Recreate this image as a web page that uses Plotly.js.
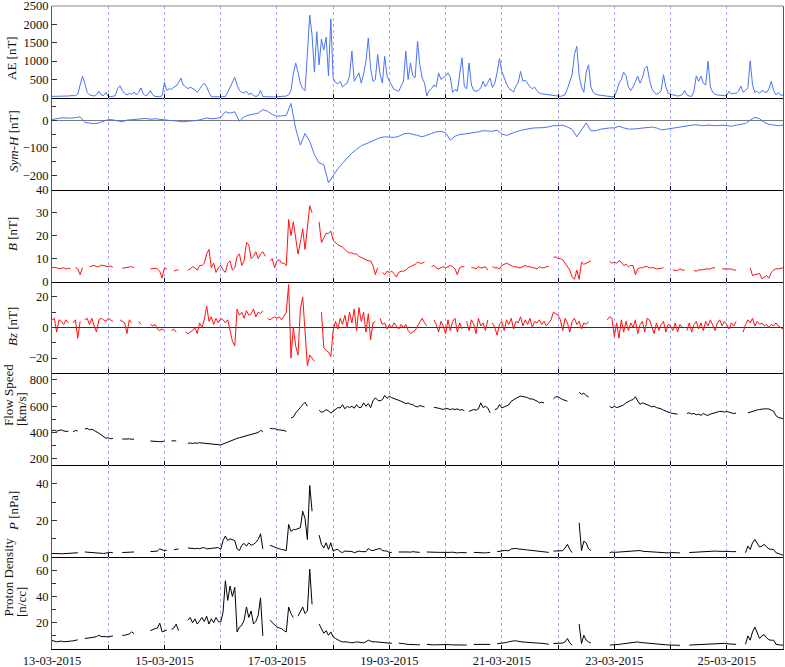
<!DOCTYPE html>
<html>
<head>
<meta charset="utf-8">
<script src="https://cdn.plot.ly/plotly-3.0.1.min.js"></script>
<style>
html,body{margin:0;padding:0;background:#fff;}
#chart{width:785px;height:667px;}
</style>
</head>
<body>
<div id="chart"></div>
<script>
// ---- time axis ----
const startDate = '2015-03-13';
const endDate = '2015-03-26';
const dayTicks = ['2015-03-13','2015-03-14','2015-03-15','2015-03-16','2015-03-17','2015-03-18','2015-03-19','2015-03-20','2015-03-21','2015-03-22','2015-03-23','2015-03-24','2015-03-25','2015-03-26'];
const dayTickText = ['13-03-2015','','15-03-2015','','17-03-2015','','19-03-2015','','21-03-2015','','23-03-2015','','25-03-2015',''];

// ---- AE [nT], hourly from 13-03 00:00 ----
const aeValues = [
40,40,35,40,45,40,40,50,60,50,60,100,350,590,400,150,80,60,50,90,180,80,60,150,
40,30,40,60,250,330,200,120,80,120,100,160,80,150,270,100,60,90,200,80,40,30,30,60,
420,200,250,230,290,320,410,540,350,300,250,290,260,220,150,250,330,400,300,150,30,30,25,30,
30,30,40,150,300,420,560,350,200,150,130,180,90,130,60,40,60,200,40,30,25,25,20,25,
30,30,40,30,50,80,200,650,950,700,400,250,200,1200,2250,1700,700,1800,900,1600,1300,1650,600,2150,
540,420,380,450,300,360,400,600,1270,450,550,680,400,650,1000,1630,800,450,500,1180,650,400,1130,600,
450,320,230,200,180,320,450,1270,500,950,600,550,1540,900,540,400,50,200,250,350,300,680,500,550,
590,680,560,150,230,180,700,1090,300,250,950,350,200,180,200,270,450,300,420,540,280,400,700,1070,
720,540,380,260,200,160,320,420,720,450,480,380,300,250,290,200,130,110,100,80,90,70,60,50,
40,40,60,90,250,450,630,1180,1400,600,300,150,700,900,300,150,100,80,70,60,50,40,40,30,
40,180,400,500,700,600,300,200,300,450,590,400,540,800,860,500,250,150,100,120,200,630,300,120,
90,80,70,50,60,90,200,80,50,40,180,600,450,590,400,350,1000,300,150,100,80,70,70,60,
70,180,100,130,120,180,320,150,200,270,1010,350,150,180,120,200,170,140,250,450,200,80,140,70,
80];

// ---- Sym-H [nT], every 2 hours ----
const symhValues = [
2,5,8,8,7,9,12,-8,-10,-13,-10,-4,
2,1,-3,-6,0,2,4,5,6,3,5,3,
0,-1,-2,-5,-6,-4,-3,-1,3,8,5,6,
10,30,25,30,-4,12,18,22,25,38,32,20,
14,15,17,60,-30,-90,-48,-76,-124,-154,-160,-225,
-200,-175,-155,-135,-118,-105,-92,-85,-78,-70,-63,-60,
-60,-62,-58,-50,-47,-50,-55,-60,-55,-48,-42,-40,
-45,-72,-58,-52,-50,-48,-44,-42,-38,-40,-40,-36,
-50,-55,-48,-42,-37,-33,-30,-28,-28,-27,-24,-20,
-20,-18,-25,-33,-60,-35,-10,-38,-38,-33,-30,-28,
-28,-22,-28,-32,-32,-30,-28,-26,-25,-28,-35,-33,
-30,-28,-25,-22,-20,-17,-18,-20,-18,-20,-20,-18,
-20,-22,-18,-15,-12,0,10,5,-8,-15,-18,-20,
-18];

// ---- |B| [nT], hourly ----
const bValues = [
6,6.2,6,5.6,5.8,6,5.5,5.8,5.5,null,6.2,5.5,3,6,null,null,6.5,6.8,7,6.5,6.5,7.2,7,6.6,
6.5,6.8,6.2,null,null,null,5.8,6,6,6.3,6.5,6,null,null,5,null,null,null,5.5,5.8,5.8,5.5,4.5,1.5,
6,5.5,null,null,4.5,5,5,null,null,null,5,5.5,6.5,6,5,7,7,8,12,14,6,8,4,6,
7,5,4,8,9,5,6,11,12,7,9,17,16,10,11,13,10,12,13,11,null,9,10,6,
9,9.5,8,8,7,27,20,26,18,12,17,23,14,25,33,30,null,null,26,17,19,21,21,22,
18,17,16,15.5,15,14,13,12.5,12.5,12,12,11,10.5,10,9.5,9,9,7,3,6,null,4,3,4.5,
4,4.5,3.5,2,4,4.5,4.5,5,6,6.5,7,7.5,8.5,8,8,8.5,null,null,6.5,7,6,5.5,6,6.5,
6,6.5,7,6.5,5.5,3,6,6.5,6.5,null,null,6,6,5.5,6.5,6,6,6.5,5,null,6.5,6,6,5.5,
7,7.5,8,7.5,7,6.5,6.5,6,6,6.5,7,6.5,6.5,6,6,5.5,6.5,6,6,6.5,6.5,null,10.5,10.8,
10,10,9.5,8,7,5,2,1,5,1,8.5,7.5,8,8.5,9,null,null,null,null,null,null,null,8.8,8,
8.5,8,9,8.5,7,7.5,6.5,7,7,3,5.5,6,6,6.5,6.5,6,6,6,5.5,5.5,5.8,6,null,null,
null,5,5,4.8,5.5,5,5,null,null,null,4.8,4.5,5,5,5.2,5.5,5.5,5.5,6,6,null,null,5.5,5.5,
5.5,5.5,5.5,5,5,null,null,null,null,null,6,2.6,3,3.4,3.5,1.2,2,2.6,1.5,4,5,5.6,5.5,5.6,
6];

// ---- Bz [nT], hourly ----
const bzValues = [
5,6,-3,5,4,2,5,3,null,3,5,-7,4,null,5,6,2,6,1,-3,5,6,5,4,
6,5,4,null,null,5,4,3,-4,5,3,null,null,4,2,null,null,null,2,1,2,-1,-2,-1,
-2,null,null,-2,-1,-3,null,null,null,-3,-4,-3,-2,0,-4,3,0,5,14,4,7,2,6,3,
6,5,3,5,-2,-9,-12,12,8,10,6,11,8,9,12,7,10,9,11,null,6,5,6,7,
6,7,5,8,10,28,-20,0,-12,-18,12,20,-5,-25,-18,-20,-22,null,null,10,-13,-15,-16,-19,
-2,4,-1,6,2,8,0,10,3,12,-2,13,4,10,-3,9,-8,3,4,null,6,2,3,-1,
2,0,3,1,-1,2,0,2,-2,-4,-3,-2,1,4,6,3,1,null,null,5,2,-3,4,1,
-4,5,-2,4,6,-3,3,-1,null,4,-2,5,2,-4,6,1,3,-2,5,null,3,0,-5,2,
4,-2,5,2,6,-1,4,3,7,1,5,2,6,0,4,3,5,2,4,1,3,5,10,9,
8,5,-2,6,3,-3,4,6,2,4,-1,3,2,4,null,null,null,null,null,null,null,5,7,6,
-6,3,-7,5,-3,4,-2,3,0,5,-4,2,4,-3,6,5,1,-4,3,-2,2,4,-3,2,
1,-2,3,-3,2,0,null,-2,3,-3,2,4,-1,3,-2,4,1,5,2,-2,3,5,1,4,
2,-1,3,1,4,null,null,-3,2,5,3,6,1,4,2,3,1,2,0,2,1,3,1,0,
-1];

// ---- Flow speed [km/s], hourly ----
const flowValues = [
412,418,410,415,420,412,408,410,null,405,415,412,null,null,425,432,420,425,415,408,395,382,370,356,
360,352,355,null,null,null,350,348,350,352,348,350,null,null,348,null,null,null,335,333,330,332,330,330,
335,null,null,336,334,336,null,null,null,null,318,320,316,320,318,322,320,318,316,314,312,308,305,303,
305,312,320,328,335,342,350,355,360,365,370,375,380,385,390,395,400,415,408,null,null,433,428,430,
420,420,418,415,408,null,510,518,549,574,590,612,630,600,null,null,null,null,569,554,560,574,565,549,
561,575,590,587,612,580,600,590,600,585,612,590,592,626,600,620,590,640,664,646,640,650,682,660,
677,665,660,651,645,638,630,620,625,615,612,600,595,605,600,595,null,null,null,592,590,585,580,575,
585,580,575,580,575,580,570,575,565,null,561,570,575,570,580,626,590,600,587,549,null,575,580,612,
587,595,600,610,638,650,664,670,677,675,670,665,656,655,650,640,626,630,626,null,null,null,655,672,
672,660,650,645,638,null,null,null,null,708,690,700,680,672,null,null,null,null,null,null,null,null,600,587,
600,590,595,600,610,626,638,645,651,672,640,615,626,620,610,605,595,600,590,587,580,570,561,555,
549,545,544,540,null,null,null,545,550,540,545,535,540,530,545,535,530,540,545,550,555,561,560,555,
560,555,550,544,548,null,null,497,null,549,555,560,569,572,575,579,580,580,579,570,561,528,515,510,
505];

// ---- Pressure P [nPa], hourly ----
const pValues = [
2,2.1,2,1.9,1.8,1.9,2,2.1,2.2,2.3,2.5,2.4,null,null,2.8,2.7,2.5,2.6,2.5,2.4,2.3,2.2,2,2.2,
2.5,2.6,2.4,null,null,null,2.5,2.6,2.8,2.7,2.6,2.8,null,null,4,null,null,null,3,3.1,3.2,3.3,4.5,4,
3.5,3.8,null,null,4,4.2,4.5,null,null,null,5,4.8,4.5,4.6,4.8,4.6,5,5.2,4.5,4.7,4.8,5,5,5.2,
4.3,9,11.5,9,10,9.5,9,4.5,3.6,6.5,7.5,6,7.8,6.5,7,8,9.6,12.7,4.5,null,null,6.5,6,5.5,
4.7,4.5,4.2,4,3.6,17.8,14,15,15,15.5,16,25,21,9.6,39,25,null,null,12,7,5,7.8,4.2,7.8,
3.3,4,4.2,3,2.5,3.3,3.2,3,3.1,2.4,2.8,3.3,3,3.1,3,4.7,3.8,3.6,4.2,4.4,4.7,3.6,3.4,3.3,
2.5,2.6,null,null,2.8,2.9,3,2.9,2.8,2.7,3,2.8,2.5,2.6,null,null,2.8,2.7,2.6,2.5,2.5,2.6,2.6,2.5,
2.5,2.4,2.6,2.7,2.4,2.3,2.5,2.6,2.3,2.4,null,null,2.6,2.5,2.5,2.4,2.4,2.3,2.5,2.6,null,null,3,3.3,
3.5,3.6,3.6,3.5,4.5,4.7,4.7,4.5,4.2,4.3,4,3.9,3.8,3.7,3.5,3.4,3.2,3.1,3,2.8,2.6,null,3.3,3.3,
3.3,3.2,3.5,5,7,4.2,2.5,null,null,18.7,3.5,8.7,7.8,4.5,3.6,null,null,null,null,null,null,null,2.4,2.8,
2.6,2.7,2.8,2.9,3,3.1,3.2,3.3,3.4,3.3,3.5,3.6,3.2,3.1,3,3,2.8,2.7,2.6,2.6,2.5,2.4,2.4,2.3,
2.5,2.4,2.4,2.3,2.3,null,null,null,2.5,2.6,2.6,2.7,2.8,2.9,3,3.1,3.2,3.2,3.3,3.3,3.2,3.2,3.4,3.5,
3.2,3.1,3,3,3,null,null,null,2.4,6,4.2,7.8,9.6,7.8,5.5,6,7,5.5,4.5,4.2,4.2,2.4,1.8,1.5,
1.1];

// ---- Proton density [n/cc], hourly ----
const nValues = [
6.5,6,5.5,5.8,6,5.5,5.5,5.8,6,6.2,6.7,7,null,null,8,8.2,8.5,8.3,9,9.5,10.4,9.5,9.2,9.4,
9.2,9.5,10,null,null,null,10.4,10.4,11,11.5,13,11.7,null,null,14,null,null,null,14,15,15.5,16,19.7,13,
14,14.5,null,15,16,19,14,null,null,null,22,24,20,23,19,22,24,21,25,19,23,20,24,21,
20.5,28,52,37,48,40,47,13,16.7,18,22,32,24,29,19,21,25.5,39,10,null,null,22,20,18,
16.7,16,15.5,14,13,32,27,24,null,25,28,32,27,29,60.8,34,null,null,19,15.5,12,14,10.5,13,
9.2,8,6.7,6,5.4,5.5,5.4,5,4.7,5,5.4,5.2,5,4.7,5.5,6.7,6,5.4,5.5,5.4,5.2,4.7,4.8,4.7,
4.5,4.3,null,null,4.5,4.4,4,3.8,3.5,3.6,3.5,3.3,3.2,3.3,null,null,3.5,3.3,3,3.1,3.2,3.3,3.5,3.4,
3.5,3.4,3.2,3.1,3,3.2,3.2,3.1,3,3.1,null,null,3.5,3.5,3.4,3.3,3.2,3.3,3.4,3.5,null,null,4,4.2,
4.5,4.3,5,5.5,6,6.2,6.2,5.8,5.5,5.3,5.2,5,5,4.9,4.8,4.6,4.5,4.3,4.2,3.8,3.5,null,4.2,4.3,
4.2,4,4.5,5.4,8,4.6,3,null,null,19,4.2,10.4,6.7,5.4,4.6,null,null,null,null,null,null,null,3,3,
3.2,3.3,3.5,3.8,4,4.1,4.2,4.3,4.5,4.8,5.4,5,4.8,4.5,4.3,4.2,4,3.9,3.8,3.7,3.5,3.3,3.2,3.1,
3,3.1,3,2.9,2.8,null,null,null,3,3.1,3.2,3.3,3.5,3.5,3.6,3.7,3.8,3.9,4,4.1,4,4.2,4.2,4.3,
4,3.8,3.6,3.6,3.5,null,null,null,3.6,10,6.7,13,16.7,11.7,8,10,11,8.5,7,6.7,6.7,3.6,3.2,3,
3];

// ---- build sample times (regular grid from the start date) ----
const START_MS = Date.UTC(2015, 2, 13);
function timeGrid(stepHours, count) {
  const out = [];
  for (let i = 0; i < count; i++) {
    const d = new Date(START_MS + i * stepHours * 3600000);
    out.push(d.toISOString().slice(0, 16).replace('T', ' '));
  }
  return out;
}
const tHourly = timeGrid(1, aeValues.length);
const t2h = timeGrid(2, symhValues.length);

const BLUE = '#4a74f2', RED = '#ff1010', BLACK = '#000000';
function tr(x, y, color, xa, ya) {
  return {x: x, y: y, type: 'scatter', mode: 'lines', line: {color: color, width: 1},
          xaxis: xa, yaxis: ya, hoverinfo: 'skip', showlegend: false, connectgaps: false};
}
const data = [
  tr(tHourly, aeValues, BLUE, 'x', 'y'),
  tr(t2h, symhValues, BLUE, 'x2', 'y2'),
  tr(tHourly, bValues, RED, 'x3', 'y3'),
  tr(tHourly, bzValues, RED, 'x4', 'y4'),
  tr(tHourly, flowValues, BLACK, 'x5', 'y5'),
  tr(tHourly, pValues, BLACK, 'x6', 'y6'),
  tr(tHourly, nValues, BLACK, 'x7', 'y7')
];

const FONT = 'Liberation Serif, Times New Roman, serif';
function xax(i, anchor) {
  const ax = {
    type: 'date', range: [startDate, endDate], anchor: anchor,
    tickmode: 'array', tickvals: dayTicks, ticktext: dayTickText,
    showticklabels: i === 7, ticks: 'inside', ticklen: 4, tickcolor: '#000',
    showline: true, linecolor: '#000', linewidth: 1, mirror: false,
    showgrid: true, gridcolor: '#a3acf4', griddash: 'dot', gridwidth: 1,
    zeroline: false, fixedrange: true, ticklabeloverflow: 'allow',
    tickfont: {family: FONT, size: 12.5, color: '#111'}
  };
  if (i > 1) ax.matches = 'x';
  return ax;
}
function yax(domain, range, tickvals, minorVals, zl, zlColor) {
  return {
    domain: domain, range: range, tickmode: 'array', tickvals: tickvals,
    ticks: 'inside', ticklen: 5, tickcolor: '#333',
    minor: minorVals ? {tickmode: 'array', tickvals: minorVals, ticks: 'inside', ticklen: 4, tickcolor: '#333', showgrid: false} : undefined,
    showline: true, linecolor: '#555', linewidth: 1, mirror: true,
    showgrid: false, zeroline: !!zl, zerolinecolor: zlColor || '#888', zerolinewidth: 1,
    ticklabeloverflow: 'allow',
    tickfont: {family: FONT, size: 12.5, color: '#111'}, fixedrange: true
  };
}
const k = 1 / 7;
const layout = {
  width: 785, height: 667,
  margin: {l: 52, r: 2, t: 6, b: 18},
  paper_bgcolor: '#fff', plot_bgcolor: '#fff',
  showlegend: false,
  font: {family: FONT, size: 12.5, color: '#111'},
  xaxis: xax(1, 'y'), xaxis2: xax(2, 'y2'), xaxis3: xax(3, 'y3'), xaxis4: xax(4, 'y4'),
  xaxis5: xax(5, 'y5'), xaxis6: xax(6, 'y6'), xaxis7: xax(7, 'y7'),
  yaxis:  yax([6*k, 1], [0, 2500], [0, 500, 1000, 1500, 2000, 2500], null, false),
  yaxis2: yax([5*k, 6*k], [-250, 80], [-200, -100, 0], [-150, -50, 50], true, '#7a7a7a'),
  yaxis3: yax([4*k, 5*k], [0, 40], [0, 10, 20, 30, 40], null, false),
  yaxis4: yax([3*k, 4*k], [-30, 30], [-20, 0, 20], [-10, 10], true, '#333'),
  yaxis5: yax([2*k, 3*k], [150, 850], [200, 400, 600, 800], [300, 500, 700], false),
  yaxis6: yax([1*k, 2*k], [0, 50], [0, 20, 40], [10, 30], false),
  yaxis7: yax([0, 1*k], [0, 70], [20, 40, 60], [10, 30, 50], false),
  shapes: [
    {type: 'line', xref: 'paper', yref: 'paper', x0: 0, x1: 1, y0: 1, y1: 1, line: {color: '#888', width: 1}}
  ],
  annotations: []
};
function pxX(px) { return (px - 52) / 731; }
function pxY(py) { return 1 - (py - 6) / 643; }
const titles = [
  {text: 'AE [nT]', x: 12, y: 58, ya: 'middle'},
  {text: '<i>Sym-H</i> [nT]', x: 13, y: 141, ya: 'middle'},
  {text: '<i>B</i> [nT]', x: 13, y: 234, ya: 'middle'},
  {text: '<i>Bz</i> [nT]', x: 13, y: 327, ya: 'middle'},
  {text: 'Flow Speed', x: 8, y: 428, ya: 'bottom'},
  {text: '[km/s]', x: 21, y: 428, ya: 'bottom'},
  {text: '<i>P</i> [nPa]', x: 13, y: 511, ya: 'middle'},
  {text: 'Proton Density', x: 8, y: 619, ya: 'bottom'},
  {text: '[n/cc]', x: 21, y: 619, ya: 'bottom'}
];
titles.forEach(t => {
  layout.annotations.push({
    text: t.text, xref: 'paper', yref: 'paper', x: pxX(t.x), y: pxY(t.y),
    xanchor: 'center', yanchor: t.ya, textangle: -90, showarrow: false,
    font: {family: FONT, size: 13, color: '#111'}
  });
});
Plotly.newPlot('chart', data, layout, {displayModeBar: false, staticPlot: true});
</script>
</body>
</html>
